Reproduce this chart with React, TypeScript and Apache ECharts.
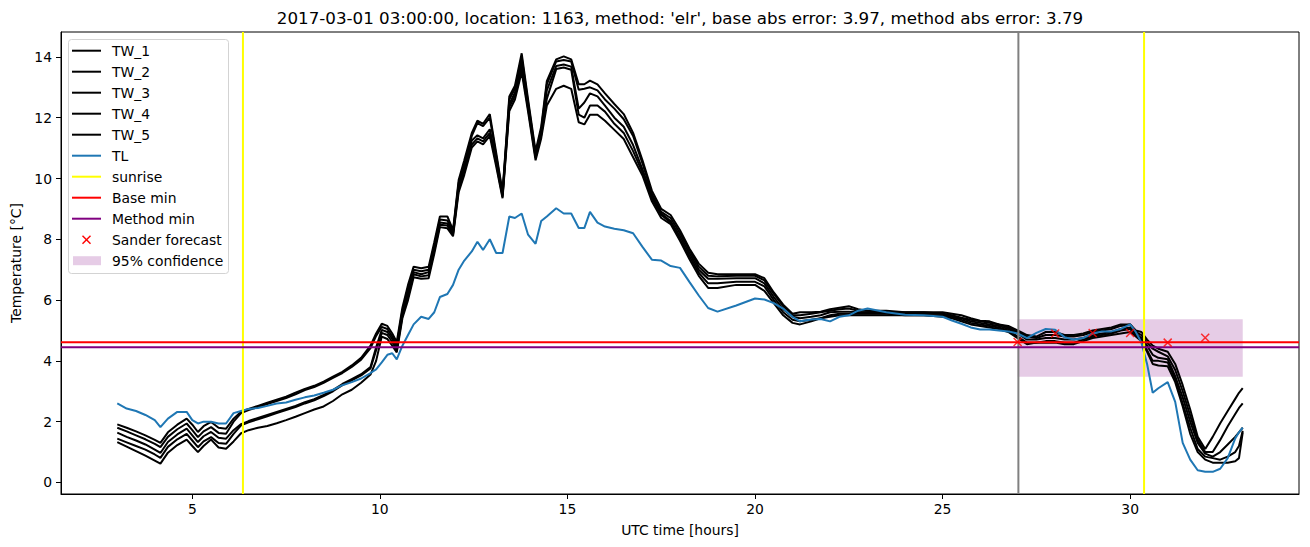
import React, { useEffect, useRef } from "react";
import * as echarts from "echarts";

// time axis (UTC hours)
const T = [
  3, 3.25, 3.5, 3.75, 4, 4.15, 4.35, 4.6, 4.85, 5,
  5.15, 5.3, 5.5, 5.7, 5.9, 6.1, 6.3, 6.5, 6.75, 7,
  7.25, 7.5, 7.75, 8, 8.25, 8.5, 8.75, 9, 9.25, 9.5,
  9.75, 9.9, 10.05, 10.2, 10.33, 10.45, 10.6, 10.75, 10.9, 11.1,
  11.3, 11.45, 11.6, 11.8, 11.95, 12.1, 12.25, 12.45, 12.6, 12.75,
  12.93, 13.1, 13.27, 13.45, 13.6, 13.78, 13.95, 14.15, 14.3, 14.45,
  14.7, 14.9, 15.1, 15.3, 15.45, 15.6, 15.8, 16, 16.25, 16.5,
  16.75, 17, 17.25, 17.5, 17.75, 18, 18.25, 18.5, 18.75, 19,
  19.5, 20, 20.25, 20.5, 20.75, 21, 21.2, 21.5, 21.75, 22,
  22.25, 22.5, 22.75, 23, 23.5, 24, 24.5, 25, 25.25, 25.5,
  25.75, 26, 26.25, 26.5, 26.75, 27, 27.25, 27.5, 27.75, 28,
  28.25, 28.5, 28.75, 29, 29.25, 29.5, 29.75, 30, 30.15, 30.3,
  30.45, 30.6, 30.75, 31, 31.2, 31.4, 31.6, 31.8, 32, 32.2,
  32.4, 32.6, 32.8, 32.9, 33,
];

const TL = [
  2.6, 2.43, 2.35, 2.22, 2.05, 1.82, 2.1, 2.32, 2.32, 2.05,
  1.94, 2.0, 2.0, 1.94, 1.94, 2.28, 2.35, 2.42, 2.45, 2.52,
  2.6, 2.63, 2.72, 2.8, 2.86, 2.95, 3.05, 3.2, 3.3, 3.42,
  3.6, 3.72, 3.95, 4.2, 4.25, 4.05, 4.5, 4.85, 5.2, 5.45,
  5.38, 5.6, 6.1, 6.2, 6.5, 7.0, 7.3, 7.6, 7.92, 7.65,
  8.0, 7.55, 7.55, 8.75, 8.7, 8.85, 8.15, 7.85, 8.6, 8.75,
  9.02, 8.85, 8.85, 8.37, 8.37, 8.9, 8.55, 8.42, 8.35, 8.3,
  8.2, 7.75, 7.33, 7.3, 7.12, 7.06, 6.6, 6.15, 5.74, 5.62,
  5.82, 6.05, 6.02, 5.9, 5.72, 5.45, 5.3, 5.36, 5.38, 5.3,
  5.45, 5.5, 5.65, 5.72, 5.6, 5.52, 5.5, 5.45, 5.33, 5.22,
  5.1, 5.03, 5.03, 5.0, 4.97, 4.9, 4.75, 4.92, 5.05, 5.02,
  4.78, 4.7, 4.75, 4.9, 4.97, 4.97, 5.05, 5.2, 4.95, 4.6,
  3.9, 2.95, 3.1, 3.3, 2.65, 1.3, 0.75, 0.4, 0.35, 0.35,
  0.45, 0.8, 1.45, 1.65, 1.8,
];

const TW_1 = [
  1.91, 1.8, 1.68, 1.55, 1.4, 1.3, 1.65, 1.9, 2.1, 1.9,
  1.66, 1.85, 1.99, 1.8, 1.77, 2.1, 2.33, 2.42, 2.52, 2.62,
  2.72, 2.82, 2.95, 3.08, 3.18, 3.32, 3.48, 3.64, 3.85, 4.1,
  4.5, 4.9, 5.22, 5.15, 4.9, 4.62, 5.75, 6.5, 7.1, 7.05,
  7.1, 7.9, 8.75, 8.75, 8.3, 9.95, 10.6, 11.5, 11.9, 11.8,
  12.12, 10.85, 9.55, 12.7, 13.05, 14.12, 12.6, 10.9, 11.7, 13.2,
  13.92, 14.02, 13.92, 13.1, 13.1, 13.22, 13.1, 12.8, 12.45, 12.12,
  11.5, 10.6, 9.6, 9.0, 8.8, 8.3, 7.7, 7.2, 6.9, 6.85,
  6.85, 6.85, 6.72, 6.25, 5.85, 5.55, 5.6, 5.6, 5.62, 5.7,
  5.75, 5.8, 5.7, 5.65, 5.65, 5.6, 5.6, 5.6, 5.55, 5.5,
  5.4, 5.32, 5.3, 5.2, 5.15, 5.0, 4.85, 4.8, 4.95, 4.95,
  4.85, 4.85, 4.9, 5.0, 5.05, 5.1, 5.2, 5.2, 5.0, 4.95,
  4.7, 4.5, 4.4, 4.3, 3.9, 3.2, 2.4, 1.5, 1.1, 1.5,
  1.95, 2.35, 2.75, 2.95, 3.1,
];

const TW_2 = [
  1.8, 1.68, 1.55, 1.42, 1.27, 1.16, 1.5, 1.75, 1.94, 1.72,
  1.49, 1.68, 1.82, 1.63, 1.6, 2.0, 2.28, 2.38, 2.48, 2.58,
  2.68, 2.78, 2.9, 3.04, 3.14, 3.28, 3.44, 3.6, 3.8, 4.04,
  4.42, 4.82, 5.12, 5.05, 4.8, 4.52, 5.65, 6.35, 7.0, 6.95,
  7.0, 7.8, 8.65, 8.62, 8.25, 9.85, 10.45, 11.4, 11.82, 11.72,
  12.0, 10.75, 9.5, 12.6, 12.95, 14.0, 12.5, 10.82, 11.6, 13.1,
  13.85, 13.9, 13.85, 12.92, 12.95, 13.0, 12.9, 12.6, 12.3, 11.95,
  11.4, 10.5, 9.5, 8.9, 8.7, 8.2, 7.65, 7.1, 6.8, 6.78,
  6.8, 6.8, 6.65, 6.2, 5.8, 5.5, 5.5, 5.55, 5.6, 5.65,
  5.7, 5.72, 5.65, 5.65, 5.6, 5.6, 5.6, 5.55, 5.5, 5.42,
  5.35, 5.3, 5.25, 5.2, 5.1, 4.95, 4.8, 4.75, 4.85, 4.85,
  4.8, 4.8, 4.85, 4.95, 5.0, 5.05, 5.15, 5.2, 4.95, 4.85,
  4.6, 4.4, 4.3, 4.15, 3.7, 3.0, 2.2, 1.4, 1.0, 1.0,
  1.4, 1.85, 2.25, 2.45, 2.6,
];

const TW_3 = [
  1.64, 1.5, 1.38, 1.25, 1.08, 0.97, 1.33, 1.58, 1.77, 1.55,
  1.33, 1.52, 1.66, 1.47, 1.44, 1.72, 1.92, 2.02, 2.12, 2.22,
  2.32, 2.42, 2.52, 2.64, 2.74, 2.88, 3.04, 3.24, 3.4, 3.56,
  3.8, 4.45, 5.02, 4.95, 4.72, 4.42, 5.55, 6.2, 6.92, 6.85,
  6.92, 7.72, 8.55, 8.52, 8.2, 9.75, 10.35, 11.25, 11.42, 11.32,
  11.62, 10.6, 9.45, 12.45, 12.82, 13.82, 12.4, 10.75, 11.5, 12.9,
  13.7, 13.75, 13.68, 12.3, 12.5, 12.8, 12.7, 12.4, 12.0, 11.7,
  11.1, 10.3, 9.4, 8.85, 8.6, 8.1, 7.55, 7.0, 6.7, 6.7,
  6.72, 6.72, 6.55, 6.1, 5.7, 5.45, 5.4, 5.45, 5.5, 5.6,
  5.62, 5.62, 5.6, 5.6, 5.6, 5.55, 5.55, 5.55, 5.45, 5.4,
  5.3, 5.25, 5.2, 5.15, 5.05, 4.9, 4.7, 4.7, 4.75, 4.75,
  4.7, 4.7, 4.75, 4.85, 4.9, 4.95, 5.05, 5.1, 4.9, 4.75,
  4.5, 4.2, 4.1, 4.05, 3.5, 2.8, 2.0, 1.3, 0.95, 0.85,
  1.0, 1.25, 1.5, 1.65, 1.8,
];

const TW_4 = [
  1.44, 1.32, 1.2, 1.08, 0.92, 0.81, 1.17, 1.42, 1.6, 1.38,
  1.16, 1.35, 1.49, 1.3, 1.27, 1.6, 1.88, 1.98, 2.08, 2.18,
  2.28, 2.38, 2.48, 2.6, 2.7, 2.84, 3.0, 3.2, 3.36, 3.52,
  3.75, 4.35, 4.92, 4.85, 4.62, 4.35, 5.48, 6.1, 6.85, 6.78,
  6.82, 7.62, 8.48, 8.45, 8.15, 9.65, 10.22, 11.12, 11.32, 11.22,
  11.5, 10.5, 9.4, 12.35, 12.72, 13.65, 12.3, 10.68, 11.42, 12.62,
  13.6, 13.65, 13.58, 12.1, 12.0, 12.4, 12.4, 12.2, 11.8, 11.5,
  10.9, 10.2, 9.35, 8.8, 8.55, 8.0, 7.45, 6.9, 6.55, 6.55,
  6.6, 6.6, 6.45, 6.0, 5.6, 5.35, 5.3, 5.35, 5.4, 5.5,
  5.55, 5.55, 5.55, 5.55, 5.55, 5.5, 5.5, 5.5, 5.45, 5.35,
  5.25, 5.2, 5.15, 5.1, 5.0, 4.8, 4.6, 4.6, 4.65, 4.65,
  4.6, 4.6, 4.7, 4.8, 4.85, 4.9, 5.0, 5.05, 4.85, 4.7,
  4.35, 4.0, 4.0, 3.95, 3.4, 2.6, 1.8, 1.1, 0.85, 0.8,
  0.75, 0.85, 1.0, 1.2, 1.7,
];

const TW_5 = [
  1.33, 1.18, 1.03, 0.88, 0.72, 0.62, 0.98, 1.23, 1.41, 1.2,
  1.0, 1.2, 1.41, 1.15, 1.11, 1.35, 1.62, 1.72, 1.8, 1.86,
  1.95, 2.05, 2.16, 2.28, 2.4, 2.5, 2.68, 2.9, 3.05, 3.28,
  3.55, 4.0, 4.8, 4.72, 4.5, 4.28, 5.4, 6.0, 6.75, 6.7,
  6.72, 7.52, 8.4, 8.36, 8.1, 9.55, 10.12, 11.02, 11.22, 11.12,
  11.4, 10.4, 9.35, 12.22, 12.6, 13.5, 12.2, 10.6, 11.32, 12.4,
  12.95, 13.05, 12.95, 11.85, 11.78, 12.1, 12.1, 11.9, 11.6, 11.3,
  10.7, 10.1, 9.25, 8.7, 8.5, 7.95, 7.35, 6.8, 6.4, 6.4,
  6.5, 6.5, 6.3, 5.9, 5.5, 5.25, 5.2, 5.3, 5.4, 5.45,
  5.5, 5.5, 5.5, 5.5, 5.5, 5.5, 5.5, 5.45, 5.4, 5.3,
  5.2, 5.15, 5.1, 5.05, 4.95, 4.75, 4.55, 4.6, 4.6, 4.6,
  4.55, 4.55, 4.65, 4.75, 4.8, 4.85, 4.9, 4.95, 4.8, 4.65,
  4.3, 3.9, 3.85, 3.82, 3.3, 2.5, 1.6, 1.0, 0.75, 0.65,
  0.65, 0.65, 0.7, 0.8, 1.65,
];

const TW_NAMES = ["TW_1", "TW_2", "TW_3", "TW_4", "TW_5"];
const TW_SERIES = [TW_1, TW_2, TW_3, TW_4, TW_5];

const SUNRISE = [6.35, 30.37];
const FORECAST_START = 27.02;
const BASE_MIN = 4.61;
const METHOD_MIN = 4.45;
const SANDER_T = [27, 28, 29, 30, 31, 32];
const SANDER_V = [4.62, 4.9, 4.92, 4.92, 4.6, 4.76];
const CONF_T = [27, 33];
const CONF_V = [3.48, 5.37];

const X_TICKS = [5, 10, 15, 20, 25, 30];
const Y_TICKS = [0, 2, 4, 6, 8, 10, 12, 14];
const X_RANGE = [1.5, 34.5];
const Y_RANGE = [-0.38, 14.82];

const TITLE =
  "2017-03-01 03:00:00, location: 1163, method: 'elr', base abs error: 3.97, method abs error: 3.79";

const FONT = "DejaVu Sans";

function legendItems() {
  const items: any[] = [];
  const x0 = 72;
  const x1 = 101;
  const tx = 112;
  const y0 = 50.7;
  const dy = 21.0;
  const rows = [
    { label: "TW_1", kind: "line", color: "#000000" },
    { label: "TW_2", kind: "line", color: "#000000" },
    { label: "TW_3", kind: "line", color: "#000000" },
    { label: "TW_4", kind: "line", color: "#000000" },
    { label: "TW_5", kind: "line", color: "#000000" },
    { label: "TL", kind: "line", color: "#1f77b4" },
    { label: "sunrise", kind: "line", color: "#ffff00" },
    { label: "Base min", kind: "line", color: "#ff0000" },
    { label: "Method min", kind: "line", color: "#800080" },
    { label: "Sander forecast", kind: "x", color: "#ff0000" },
    { label: "95% confidence", kind: "patch", color: "rgba(128,0,128,0.2)" },
  ];
  items.push({
    type: "rect",
    shape: { x: 68.5, y: 39.5, width: 160, height: 234, r: 3 },
    style: { fill: "rgba(255,255,255,0.8)", stroke: "#d3d3d3", lineWidth: 1 },
  });
  rows.forEach((r, i) => {
    const y = y0 + i * dy;
    if (r.kind === "line") {
      items.push({
        type: "line",
        shape: { x1: x0, y1: y, x2: x1, y2: y },
        style: { stroke: r.color, lineWidth: 2 },
      });
    } else if (r.kind === "x") {
      const cx = (x0 + x1) / 2;
      items.push({
        type: "line",
        shape: { x1: cx - 4, y1: y - 4, x2: cx + 4, y2: y + 4 },
        style: { stroke: r.color, lineWidth: 1.5 },
      });
      items.push({
        type: "line",
        shape: { x1: cx - 4, y1: y + 4, x2: cx + 4, y2: y - 4 },
        style: { stroke: r.color, lineWidth: 1.5 },
      });
    } else {
      items.push({
        type: "rect",
        shape: { x: x0 + 1, y: y - 4.5, width: x1 - x0 - 1, height: 9 },
        style: { fill: r.color },
      });
    }
    items.push({
      type: "text",
      x: tx,
      y: y,
      style: {
        text: r.label,
        fontSize: 13.9,
        fontFamily: FONT,
        fill: "#000000",
        align: "left",
        verticalAlign: "middle",
      },
    });
  });
  return items;
}

export default function App() {
  const ref = useRef<HTMLDivElement>(null);

  useEffect(() => {
    document.body.style.margin = "0";
    if (!ref.current) return;
    const chart = echarts.init(ref.current, undefined, { renderer: "svg" });

    const lineSeries: any[] = TW_SERIES.map((vals, k) => ({
      name: TW_NAMES[k],
      type: "line",
      data: T.map((t, i) => [t, vals[i]]),
      showSymbol: false,
      symbol: "none",
      lineStyle: { color: "#000000", width: 2 },
      z: 3,
      silent: true,
    }));

    const option: any = {
      animation: false,
      backgroundColor: "#ffffff",
      grid: {
        left: 61,
        right: 11,
        top: 32,
        bottom: 53,
        show: true,
        borderColor: "#000000",
        borderWidth: 1,
        backgroundColor: "transparent",
      },
      xAxis: {
        type: "value",
        min: X_RANGE[0],
        max: X_RANGE[1],
        axisLine: { show: true, onZero: false, lineStyle: { color: "#000000", width: 1 } },
        axisTick: {
          show: true,
          length: 5,
          lineStyle: { color: "#000000" },
          customValues: X_TICKS,
        },
        axisLabel: {
          customValues: X_TICKS,
          color: "#000000",
          fontSize: 13.9,
          fontFamily: FONT,
          margin: 8,
        },
        splitLine: { show: false },
        name: "UTC time [hours]",
        nameLocation: "middle",
        nameGap: 29,
        nameTextStyle: { color: "#000000", fontSize: 13.9, fontFamily: FONT },
      },
      yAxis: {
        type: "value",
        min: Y_RANGE[0],
        max: Y_RANGE[1],
        axisLine: { show: true, onZero: false, lineStyle: { color: "#000000", width: 1 } },
        axisTick: {
          show: true,
          length: 5,
          lineStyle: { color: "#000000" },
          customValues: Y_TICKS,
        },
        axisLabel: {
          customValues: Y_TICKS,
          color: "#000000",
          fontSize: 13.9,
          fontFamily: FONT,
          margin: 9,
        },
        splitLine: { show: false },
        name: "Temperature [°C]",
        nameLocation: "middle",
        nameGap: 36,
        nameRotate: 90,
        nameTextStyle: { color: "#000000", fontSize: 13.9, fontFamily: FONT },
      },
      graphic: [
        {
          type: "text",
          x: 680,
          y: 18,
          style: {
            text: TITLE,
            fontSize: 16.7,
            fontFamily: FONT,
            fill: "#000000",
            align: "center",
            verticalAlign: "middle",
          },
          z: 100,
        },
        { type: "group", z: 100, children: legendItems() },
      ],
      series: [
        {
          name: "95% confidence",
          type: "custom",
          z: 1,
          silent: true,
          encode: { x: [0, 1], y: [2, 3] },
          data: [[CONF_T[0], CONF_T[1], CONF_V[0], CONF_V[1]]],
          renderItem: (params: any, api: any) => {
            const p0 = api.coord([api.value(0), api.value(3)]);
            const p1 = api.coord([api.value(1), api.value(2)]);
            return {
              type: "rect",
              shape: { x: p0[0], y: p0[1], width: p1[0] - p0[0], height: p1[1] - p0[1] },
              style: { fill: "rgba(128,0,128,0.2)" },
            };
          },
        },
        ...lineSeries,
        {
          name: "TL",
          type: "line",
          data: T.map((t, i) => [t, TL[i]]),
          showSymbol: false,
          symbol: "none",
          lineStyle: { color: "#1f77b4", width: 2 },
          z: 4,
          silent: true,
        },
        ...SUNRISE.map((s) => ({
          name: "sunrise",
          type: "line",
          data: [
            [s, Y_RANGE[0]],
            [s, Y_RANGE[1]],
          ],
          showSymbol: false,
          symbol: "none",
          lineStyle: { color: "#ffff00", width: 2 },
          z: 5,
          silent: true,
        })),
        {
          name: "forecast start",
          type: "line",
          data: [
            [FORECAST_START, Y_RANGE[0]],
            [FORECAST_START, Y_RANGE[1]],
          ],
          showSymbol: false,
          symbol: "none",
          lineStyle: { color: "#808080", width: 2 },
          z: 5,
          silent: true,
        },
        {
          name: "Base min",
          type: "line",
          data: [
            [X_RANGE[0], BASE_MIN],
            [X_RANGE[1], BASE_MIN],
          ],
          showSymbol: false,
          symbol: "none",
          lineStyle: { color: "#ff0000", width: 2 },
          z: 6,
          silent: true,
        },
        {
          name: "Method min",
          type: "line",
          data: [
            [X_RANGE[0], METHOD_MIN],
            [X_RANGE[1], METHOD_MIN],
          ],
          showSymbol: false,
          symbol: "none",
          lineStyle: { color: "#800080", width: 2 },
          z: 6,
          silent: true,
        },
        {
          name: "Sander forecast",
          type: "scatter",
          data: SANDER_T.map((t, i) => [t, SANDER_V[i]]),
          symbol: "path://M0,0L10,10M10,0L0,10",
          symbolSize: 8,
          itemStyle: { color: "#ff0000", borderColor: "#ff0000", borderWidth: 1.5 },
          z: 7,
          silent: true,
        },
      ],
    };

    chart.setOption(option);
    return () => chart.dispose();
  }, []);

  return <div ref={ref} style={{ width: 1310, height: 547 }} />;
}
